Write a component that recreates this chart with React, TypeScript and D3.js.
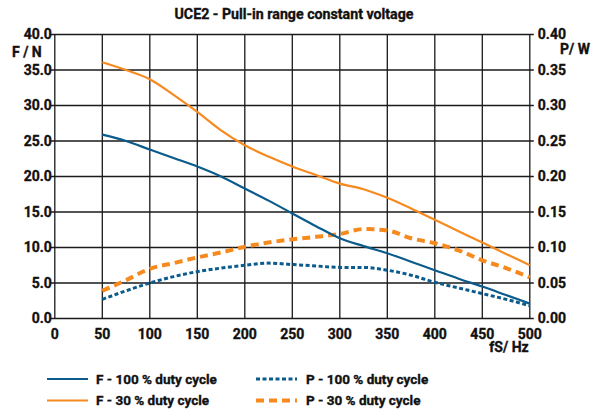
import React from "react";
import * as d3 from "d3";

const freqs = [50, 75, 100, 125, 150, 175, 200, 225, 250, 275, 300, 325, 350, 375, 400, 425, 450, 475, 500];
const f100 = [25.9, 25.0, 23.8, 22.6, 21.4, 20.0, 18.3, 16.6, 14.8, 13.0, 11.3, 10.2, 9.2, 8.0, 6.8, 5.6, 4.5, 3.3, 2.1];
const f30 = [36.1, 35.0, 33.7, 31.5, 29.1, 26.5, 24.4, 22.8, 21.4, 20.2, 19.0, 18.2, 17.0, 15.5, 13.9, 12.3, 10.7, 9.1, 7.5];
const p100 = [0.027, 0.039, 0.050, 0.059, 0.066, 0.071, 0.075, 0.078, 0.076, 0.074, 0.072, 0.072, 0.068, 0.061, 0.051, 0.043, 0.035, 0.027, 0.018];
const p30 = [0.039, 0.054, 0.070, 0.078, 0.086, 0.093, 0.101, 0.107, 0.1115, 0.115, 0.119, 0.126, 0.124, 0.113, 0.106, 0.096, 0.082, 0.071, 0.058];

const xTicks = [0, 50, 100, 150, 200, 250, 300, 350, 400, 450, 500];
const fTicks = [0, 5, 10, 15, 20, 25, 30, 35, 40];
const pTicks = [0, 0.05, 0.1, 0.15, 0.2, 0.25, 0.3, 0.35, 0.4];

const title = "UCE2 - Pull-in range constant voltage";
const legendItems = [
  { label: "F - 100 % duty cycle", key: "f100" },
  { label: "F - 30 % duty cycle", key: "f30" },
  { label: "P - 100 % duty cycle", key: "p100" },
  { label: "P - 30 % duty cycle", key: "p30" },
];

const BLUE = "#0b5b8c";
const ORANGE = "#f68a1f";
const FONT = "Roboto, 'DejaVu Sans Condensed', sans-serif";
const FS = 14;

const styles: Record<string, { color: string; width: number; dash?: string }> = {
  f100: { color: BLUE, width: 2.2 },
  f30: { color: ORANGE, width: 2.2 },
  p100: { color: BLUE, width: 3, dash: "4 2.5" },
  p30: { color: ORANGE, width: 4, dash: "8 5" },
};

export default function App() {
  const W = 593, H = 414;
  const x = d3.scaleLinear().domain([0, 500]).range([54.8, 529.8]);
  const yF = d3.scaleLinear().domain([0, 40]).range([318.5, 34.5]);
  const yP = d3.scaleLinear().domain([0, 0.4]).range([318.5, 34.5]);

  const lineF = d3.line<number>().x((_, i) => x(freqs[i])).y((d) => yF(d)).curve(d3.curveMonotoneX);
  const lineP = d3.line<number>().x((_, i) => x(freqs[i])).y((d) => yP(d)).curve(d3.curveMonotoneX);

  const series = [
    { key: "p100", d: lineP(p100) },
    { key: "p30", d: lineP(p30) },
    { key: "f30", d: lineF(f30) },
    { key: "f100", d: lineF(f100) },
  ];

  const legendPos: Record<string, [number, number, number]> = {
    f100: [47, 379, 96],
    f30: [47, 400.5, 96],
    p100: [256, 379, 306],
    p30: [256, 400.5, 306],
  };

  const txt = {
    fontFamily: FONT,
    fontWeight: "bold" as const,
    fontSize: FS,
    fill: "#111",
    stroke: "#111",
    strokeWidth: 0.35,
  };

  return (
    <svg width={W} height={H} style={{ position: "absolute", left: 0, top: 0, background: "#fff" }}>
      <rect x={0} y={0} width={W} height={H} fill="#fff" />
      <text x={294} y={19} textAnchor="middle" {...txt} fontSize={14.2}>
        {title}
      </text>
      {xTicks.map((t) => (
        <line key={"gx" + t} x1={x(t)} x2={x(t)} y1={yF(0)} y2={yF(40)} stroke="#1a1a1a" strokeWidth={1.3} />
      ))}
      {fTicks.map((t) => (
        <line key={"gy" + t} x1={x(0) - 4} x2={x(500) + 4} y1={yF(t)} y2={yF(t)} stroke="#1a1a1a" strokeWidth={1.3} />
      ))}
      {fTicks.map((t) => (
        <text key={"fl" + t} x={x(0) - 3} y={yF(t) + 4.8} textAnchor="end" {...txt}>
          {t.toFixed(1)}
        </text>
      ))}
      {pTicks.map((t) => (
        <text key={"pl" + t} x={x(500) + 8} y={yP(t) + 4.8} textAnchor="start" {...txt}>
          {t.toFixed(2)}
        </text>
      ))}
      {xTicks.map((t) => (
        <text key={"xl" + t} x={x(t)} y={338.5} textAnchor="middle" {...txt}>
          {t}
        </text>
      ))}
      <text x={12} y={56.5} textAnchor="start" {...txt}>F / N</text>
      <text x={560} y={54} textAnchor="start" {...txt}>P/ W</text>
      <text x={509} y={352} textAnchor="middle" {...txt}>fS/ Hz</text>
      {series.map((s) => (
        <path
          key={s.key}
          d={s.d || ""}
          fill="none"
          stroke={styles[s.key].color}
          strokeWidth={styles[s.key].width}
          strokeDasharray={styles[s.key].dash}
        />
      ))}
      {legendItems.map((it) => {
        const [lx, ly, tx] = legendPos[it.key];
        const st = styles[it.key];
        return (
          <g key={it.key}>
            <line x1={lx} x2={lx + 41} y1={ly} y2={ly} stroke={st.color} strokeWidth={st.width} strokeDasharray={st.dash} />
            <text x={tx} y={ly + 4.8} {...txt} fontSize={13.5}>
              {it.label}
            </text>
          </g>
        );
      })}
    </svg>
  );
}
